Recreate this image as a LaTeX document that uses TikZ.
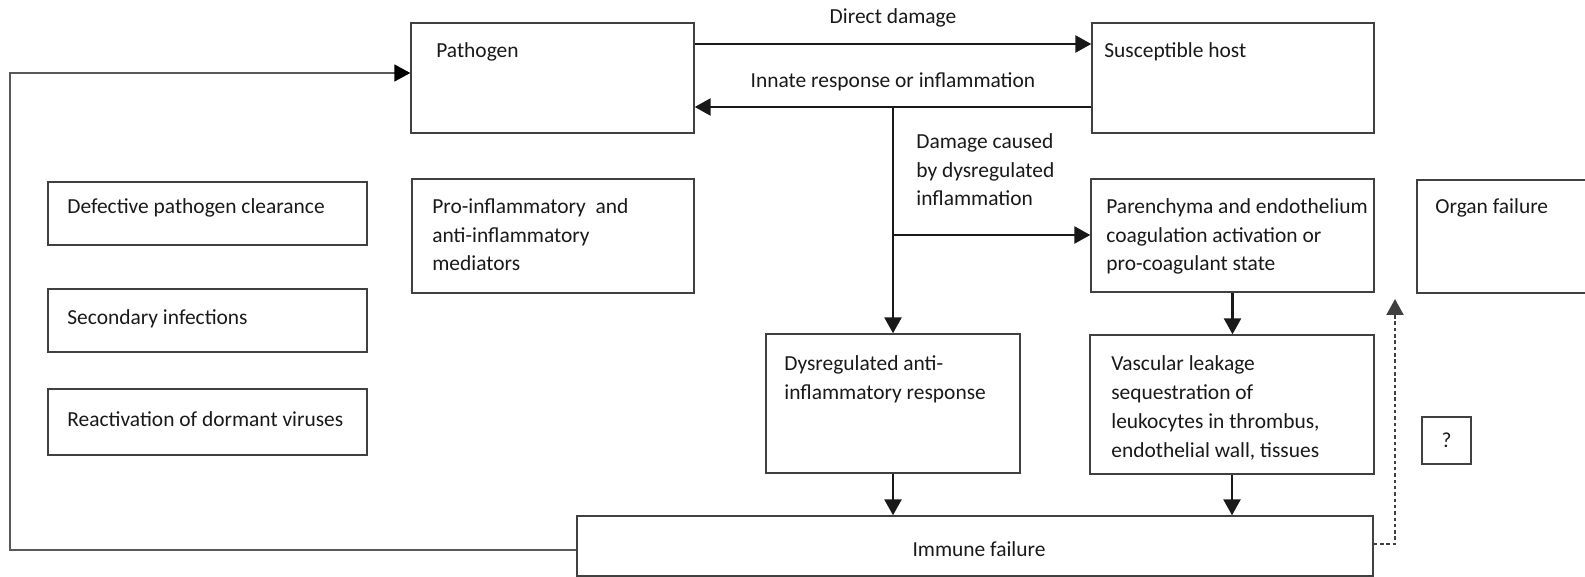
\documentclass[tikz,border=0pt]{standalone}
\usepackage{fontspec}
\setmainfont{Carlito}
\usetikzlibrary{arrows.meta,fit,positioning}

\begin{document}
\begin{tikzpicture}
  [
  x=0.02cm, y=-0.02cm,
  font=\fontsize{12.2pt}{16.4pt}\selectfont,
  >={Triangle[length=3.2mm,width=3.4mm]},
  box/.style={draw=black!75, line width=0.8pt, inner sep=0pt},
  txt/.style={anchor=base west, align=left, inner sep=0pt, text=black!90},
  arr/.style={->, line width=1.5pt, draw=black!90},
  fb/.style={-{Triangle[length=3.2mm,width=3.4mm,black]}, line width=0.9pt, draw=black!65},
  dotarr/.style={->, line width=1.2pt, draw=black!75, dash pattern=on 2pt off 1.6pt},
  ]
  \useasboundingbox (0,0) rectangle (1585,577);

  % top row
  \node[box, fit={(411,23) (694,133)}] (pathogen) {};
  \node[txt] (pathogen-t) at (436,58) {Pathogen};
  \node[box, fit={(1092,23) (1374,133)}] (host) {};
  \node[txt] (host-t) at (1104,58) {Susceptible host};
  \node[txt, anchor=base] (direct-t) at (893,24) {Direct damage};
  \node[txt, anchor=base] (innate-t) at (893,88) {Innate response or inflammation};
  % multi-line texts sit on their last baseline
  \node[txt] (damage-t) at (916,206) {Damage caused\\by dysregulated\\inflammation};

  % left column
  \node[box, fit={(48,182) (367,245)}] (defect) {};
  \node[txt] (defect-t) at (67,214) {Defective pathogen clearance};
  \node[box, fit={(48,289) (367,352)}] (second) {};
  \node[txt] (second-t) at (67,325) {Secondary infections};
  \node[box, fit={(48,389) (367,455)}] (react) {};
  \node[txt] (react-t) at (67,426) {Reactivation of dormant viruses};

  % middle
  \node[box, fit={(412,179) (694,293)}] (mediat) {};
  \node[txt] (mediat-t) at (432,271) {Pro-inflammatory~ and\\anti-inflammatory\\mediators};
  \node[box, fit={(1091,179) (1374,292)}] (paren) {};
  \node[txt] (paren-t) at (1106,271) {Parenchyma and endothelium\\coagulation activation or\\pro-coagulant state};
  \node[box, fit={(1417,180) (1600,293)}] (organ) {};
  \node[txt] (organ-t) at (1435,214) {Organ failure};

  \node[box, fit={(766,334) (1020,473)}] (dys) {};
  \node[txt] (dys-t) at (784,399) {Dysregulated anti-\\inflammatory response};
  \node[box, fit={(1090,335) (1374,474)}] (vasc) {};
  \node[txt] (vasc-t) at (1111,457) {Vascular leakage\\sequestration of\\leukocytes in thrombus,\\endothelial wall, tissues};
  \node[box, fit={(1422,417) (1471,464)}] (query) {};
  \node[txt, anchor=center] (query-t) at (query) {?};

  \node[box, fit={(577,516) (1373,576)}] (immune) {};
  \node[txt, anchor=base] (immune-t) at (979,556) {Immune failure};

  \coordinate (split) at (893,107);
  \coordinate (branch) at (893,235);
  \coordinate (loop) at (10,73);
  \coordinate (organ-in) at (1395,299);

  % connectors
  \draw[arr] (pathogen.east |- 0,44) -- (host.west |- 0,44);
  \draw[arr] (host.west |- split) -- (pathogen.east |- split);
  \draw[arr] (split) -- (dys.north);
  \draw[arr] (branch) -- (paren.west |- branch);
  \draw[arr] (paren.south) -- (vasc.north -| paren.south);
  \draw[arr] (dys.south) -- (dys.south |- immune.north);
  \draw[arr] (vasc.south) -- (vasc.south |- immune.north);
  \draw[fb] (immune.west |- 0,550) -| (loop) -- (pathogen.west |- loop);
  \draw[dotarr] (immune.east |- 0,544) -| (organ-in);
\end{tikzpicture}
\end{document}
